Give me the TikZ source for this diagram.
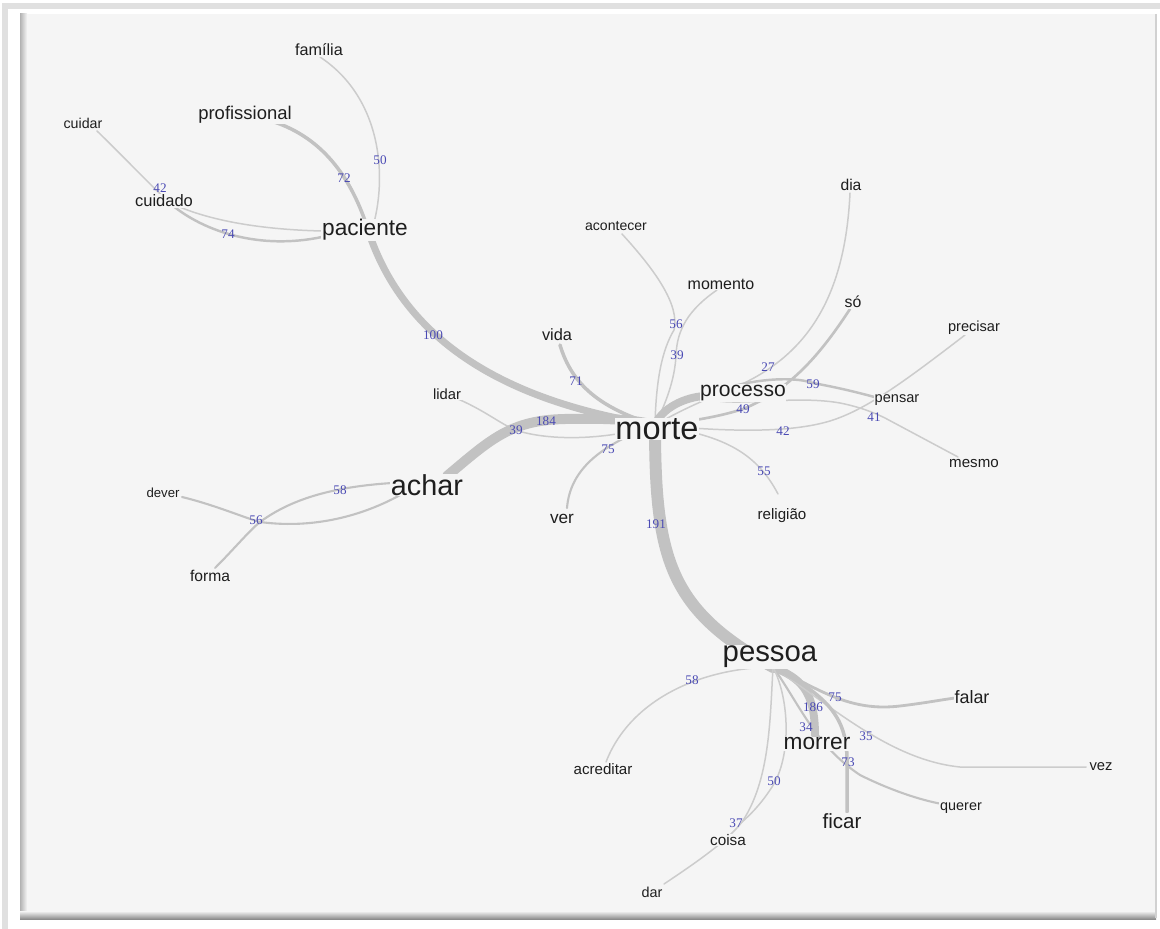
\documentclass[tikz,border=0pt]{standalone}
\usepackage{fontspec}
\setmainfont{Liberation Sans}
\newfontfamily\numfont{Liberation Serif}
\definecolor{panel}{HTML}{F5F5F5}
\definecolor{edgec}{HTML}{C2C2C2}
\definecolor{thinc}{HTML}{CCCCCC}
\definecolor{wordc}{HTML}{1E1E1E}
\definecolor{numc}{HTML}{4A4AB4}
\begin{document}
\begin{tikzpicture}[x=0.02cm,y=-0.02cm,
  word/.style={font=\fontsize{#1}{#1}\selectfont, text=wordc, fill=panel, inner sep=0.4pt},
  wt/.style={font=\numfont\fontsize{7.5}{8}\selectfont, text=numc, inner sep=0pt},
  lk/.style={draw=edgec, line width=#1, line cap=round},
  tl/.style={draw=thinc, line width=0.85pt, line cap=round}]
\useasboundingbox (0,0) rectangle (1160,929);
% frame
\fill[white] (0,0) rectangle (1160,929);
\draw[black!12, line width=3pt] (5,929) -- (5,6) -- (1160,6);
\fill[panel] (20,14) rectangle (1156,918);
\shade[left color=black!30, right color=panel] (20,14) rectangle (27,918);
\shade[top color=panel, bottom color=black!45] (20,911) rectangle (1156,919);
\draw[black!18, line width=1pt] (1156,14) -- (1156,918);

% vertices
\coordinate (hM) at (655,425);
\coordinate (hPac) at (370,236);
\coordinate (hAch) at (447,476);
\coordinate (hPe) at (773,667);
\coordinate (hPro) at (705,396);
\coordinate (jAch) at (260,522);
\coordinate (jCoi) at (742,822);
% free ends
\coordinate (eFam) at (320,57);
\coordinate (ePro) at (268,120);
\coordinate (eCuiA) at (175,205);
\coordinate (eCuiB) at (172,205);
\coordinate (ePacL) at (322,231);
\coordinate (ePacM) at (322,237);
\coordinate (eCdr) at (97,131);
\coordinate (eVid) at (560,345);
\coordinate (eLid) at (458,399);
\coordinate (eDev) at (182,497);
\coordinate (eFor) at (215,568);
\coordinate (eAchA) at (402,494);
\coordinate (eAchB) at (392,483);
\coordinate (eVer) at (567,508);
\coordinate (eAco) at (622,234);
\coordinate (eMom) at (717,290);
\coordinate (eDia) at (850,193);
\coordinate (eSo) at (850,309);
\coordinate (ePen) at (878,398);
\coordinate (eMes) at (958,457);
\coordinate (ePre) at (965,335);
\coordinate (eRel) at (778,494);
\coordinate (eMor) at (815,735);
\coordinate (eFal) at (955,698);
\coordinate (eVez) at (1086,767);
\coordinate (eQue) at (942,804);
\coordinate (eFic) at (847,812);
\coordinate (eAcr) at (606,762);
\coordinate (eDar) at (664,884);

% connectors: paciente cluster
\draw[lk=4pt] (hPac) .. controls (405,335) and (495,400) .. (hM);
\draw[lk=2pt] (ePro) .. controls (320,135) and (352,175) .. (hPac);
\draw[tl] (eFam) .. controls (385,100) and (388,185) .. (hPac);
\draw[tl] (eCuiA) .. controls (220,225) and (280,230) .. (ePacL);
\draw[lk=1.4pt] (eCuiB) .. controls (205,232) and (260,250) .. (ePacM);
\draw[tl] (eCdr) .. controls (125,158) and (150,185) .. (eCuiB);
% morte, left side
\draw[lk=2pt] (eVid) .. controls (572,385) and (600,408) .. (hM);
\draw[tl] (eLid) .. controls (490,413) and (505,428) .. (522,432) .. controls (560,442) and (615,438) .. (hM);
\draw[lk=5.7pt] (hAch) .. controls (490,440) and (510,420) .. (565,419) .. controls (610,418) and (635,420) .. (hM);
\draw[lk=1.2pt] (eDev) .. controls (215,505) and (245,518) .. (jAch) .. controls (320,530) and (370,512) .. (eAchA);
\draw[lk=1.2pt] (eFor) .. controls (235,548) and (248,532) .. (jAch) .. controls (290,500) and (330,487) .. (eAchB);
\draw[lk=1.2pt] (eVer) .. controls (570,470) and (600,445) .. (hM);
% morte, upper side
\draw[tl] (eAco) .. controls (655,270) and (680,305) .. (674,330) .. controls (662,350) and (656,380) .. (hM);
\draw[tl] (eMom) .. controls (688,310) and (677,330) .. (676,355) .. controls (675,380) and (665,405) .. (hM);
\draw[lk=4.5pt] (hPro) .. controls (685,397) and (662,408) .. (hM);
\draw[tl] (eDia) .. controls (845,300) and (805,355) .. (740,385) .. controls (715,396) and (690,405) .. (hM);
\draw[lk=1.5pt] (eSo) .. controls (820,355) and (790,390) .. (743,409) .. controls (715,418) and (685,422) .. (hM);
\draw[lk=1.4pt] (hPro) .. controls (740,380) and (790,375) .. (813,383) .. controls (840,388) and (860,393) .. (ePen);
\draw[tl] (hPro) .. controls (720,410) and (790,394) .. (840,403) .. controls (860,407) and (875,413) .. (885,418) -- (eMes);
\draw[tl] (hM) .. controls (730,432) and (790,433) .. (830,421) .. controls (865,410) and (900,385) .. (ePre);
\draw[tl] (hM) .. controls (720,435) and (755,450) .. (eRel);
% morte to pessoa
\draw[lk=6.8pt] (hM) .. controls (655,560) and (670,610) .. (hPe);
% pessoa cluster
\draw[lk=4.5pt] (hPe) .. controls (800,678) and (815,690) .. (eMor);
\draw[lk=1.6pt] (hPe) .. controls (820,690) and (850,712) .. (900,706) .. controls (925,703) and (940,700) .. (eFal);
\draw[tl] (hPe) .. controls (830,705) and (890,760) .. (960,767) -- (eVez);
\draw[lk=1.2pt] (hPe) .. controls (800,705) and (815,745) .. (860,775) .. controls (890,790) and (920,800) .. (eQue);
\draw[lk=2pt] (hPe) .. controls (825,695) and (847,715) .. (847,760) -- (eFic);
\draw[tl] (hPe) .. controls (700,668) and (630,700) .. (eAcr);
\draw[tl] (hPe) .. controls (770,720) and (770,780) .. (jCoi) .. controls (728,840) and (700,860) .. (eDar);
\draw[tl] (hPe) .. controls (790,700) and (792,760) .. (770,790) .. controls (760,805) and (750,815) .. (jCoi);

% words
\node[word=9.2] (familia) at (319,50) {família};
\node[word=10.5] (profissional) at (245,115) {profissional};
\node[word=8.1] (cuidar) at (83,123) {cuidar};
\node[word=9.4] (cuidado) at (164,201) {cuidado};
\node[word=12.9] (paciente) at (365,230) {paciente};
\node[word=8] (acontecer) at (616,226) {acontecer};
\node[word=9.1] (momento) at (721,284) {momento};
\node[word=9.3] (vida) at (557,335) {vida};
\node[word=8.4] (lidar) at (447,394) {lidar};
\node[word=18.5] (morte) at (657,429) {morte};
\node[word=16.4] (achar) at (427,485) {achar};
\node[word=7.5] (dever) at (163,493) {dever};
\node[word=8.9] (forma) at (210,576) {forma};
\node[word=9.8] (ver) at (562,519) {ver};
\node[word=8.6] (religiao) at (782,516) {religião};
\node[word=12] (processo) at (743,393) {processo};
\node[word=8.9] (dia) at (851,185) {dia};
\node[word=9] (so) at (853,302) {só};
\node[word=8.3] (precisar) at (974,328) {precisar};
\node[word=8.3] (pensar) at (897,400) {pensar};
\node[word=8.6] (mesmo) at (974,464) {mesmo};
\node[word=16.7] (pessoa) at (770,657) {pessoa};
\node[word=12.9] (morrer) at (817,744) {morrer};
\node[word=11.7] (ficar) at (842,821) {ficar};
\node[word=10.2] (falar) at (972,697) {falar};
\node[word=8.4] (vez) at (1101,767) {vez};
\node[word=8.2] (querer) at (961,808) {querer};
\node[word=8.6] (acreditar) at (603,769) {acreditar};
\node[word=8.7] (coisa) at (728,840) {coisa};
\node[word=8.2] (dar) at (652,892) {dar};

% co-occurrence counts
\node[wt] (n50a) at (380,160) {50};
\node[wt] (n72) at (344,178) {72};
\node[wt] (n42a) at (160,188) {42};
\node[wt] (n74) at (228,234) {74};
\node[wt] (n100) at (433,335) {100};
\node[wt] (n71) at (576,381) {71};
\node[wt] (n39a) at (516,430) {39};
\node[wt] (n184) at (546,421) {184};
\node[wt] (n75a) at (608,449) {75};
\node[wt] (n56a) at (676,324) {56};
\node[wt] (n39b) at (677,355) {39};
\node[wt] (n27) at (768,367) {27};
\node[wt] (n59) at (813,384) {59};
\node[wt] (n49) at (743,409) {49};
\node[wt] (n42b) at (783,431) {42};
\node[wt] (n41) at (874,417) {41};
\node[wt] (n55) at (764,471) {55};
\node[wt] (n191) at (656,524) {191};
\node[wt] (n58a) at (340,490) {58};
\node[wt] (n56b) at (256,520) {56};
\node[wt] (n58b) at (692,680) {58};
\node[wt] (n75b) at (835,697) {75};
\node[wt] (n186) at (813,707) {186};
\node[wt] (n35) at (866,736) {35};
\node[wt] (n34) at (806,727) {34};
\node[wt] (n73) at (848,762) {73};
\node[wt] (n50b) at (774,781) {50};
\node[wt] (n37) at (736,823) {37};
\end{tikzpicture}
\end{document}
